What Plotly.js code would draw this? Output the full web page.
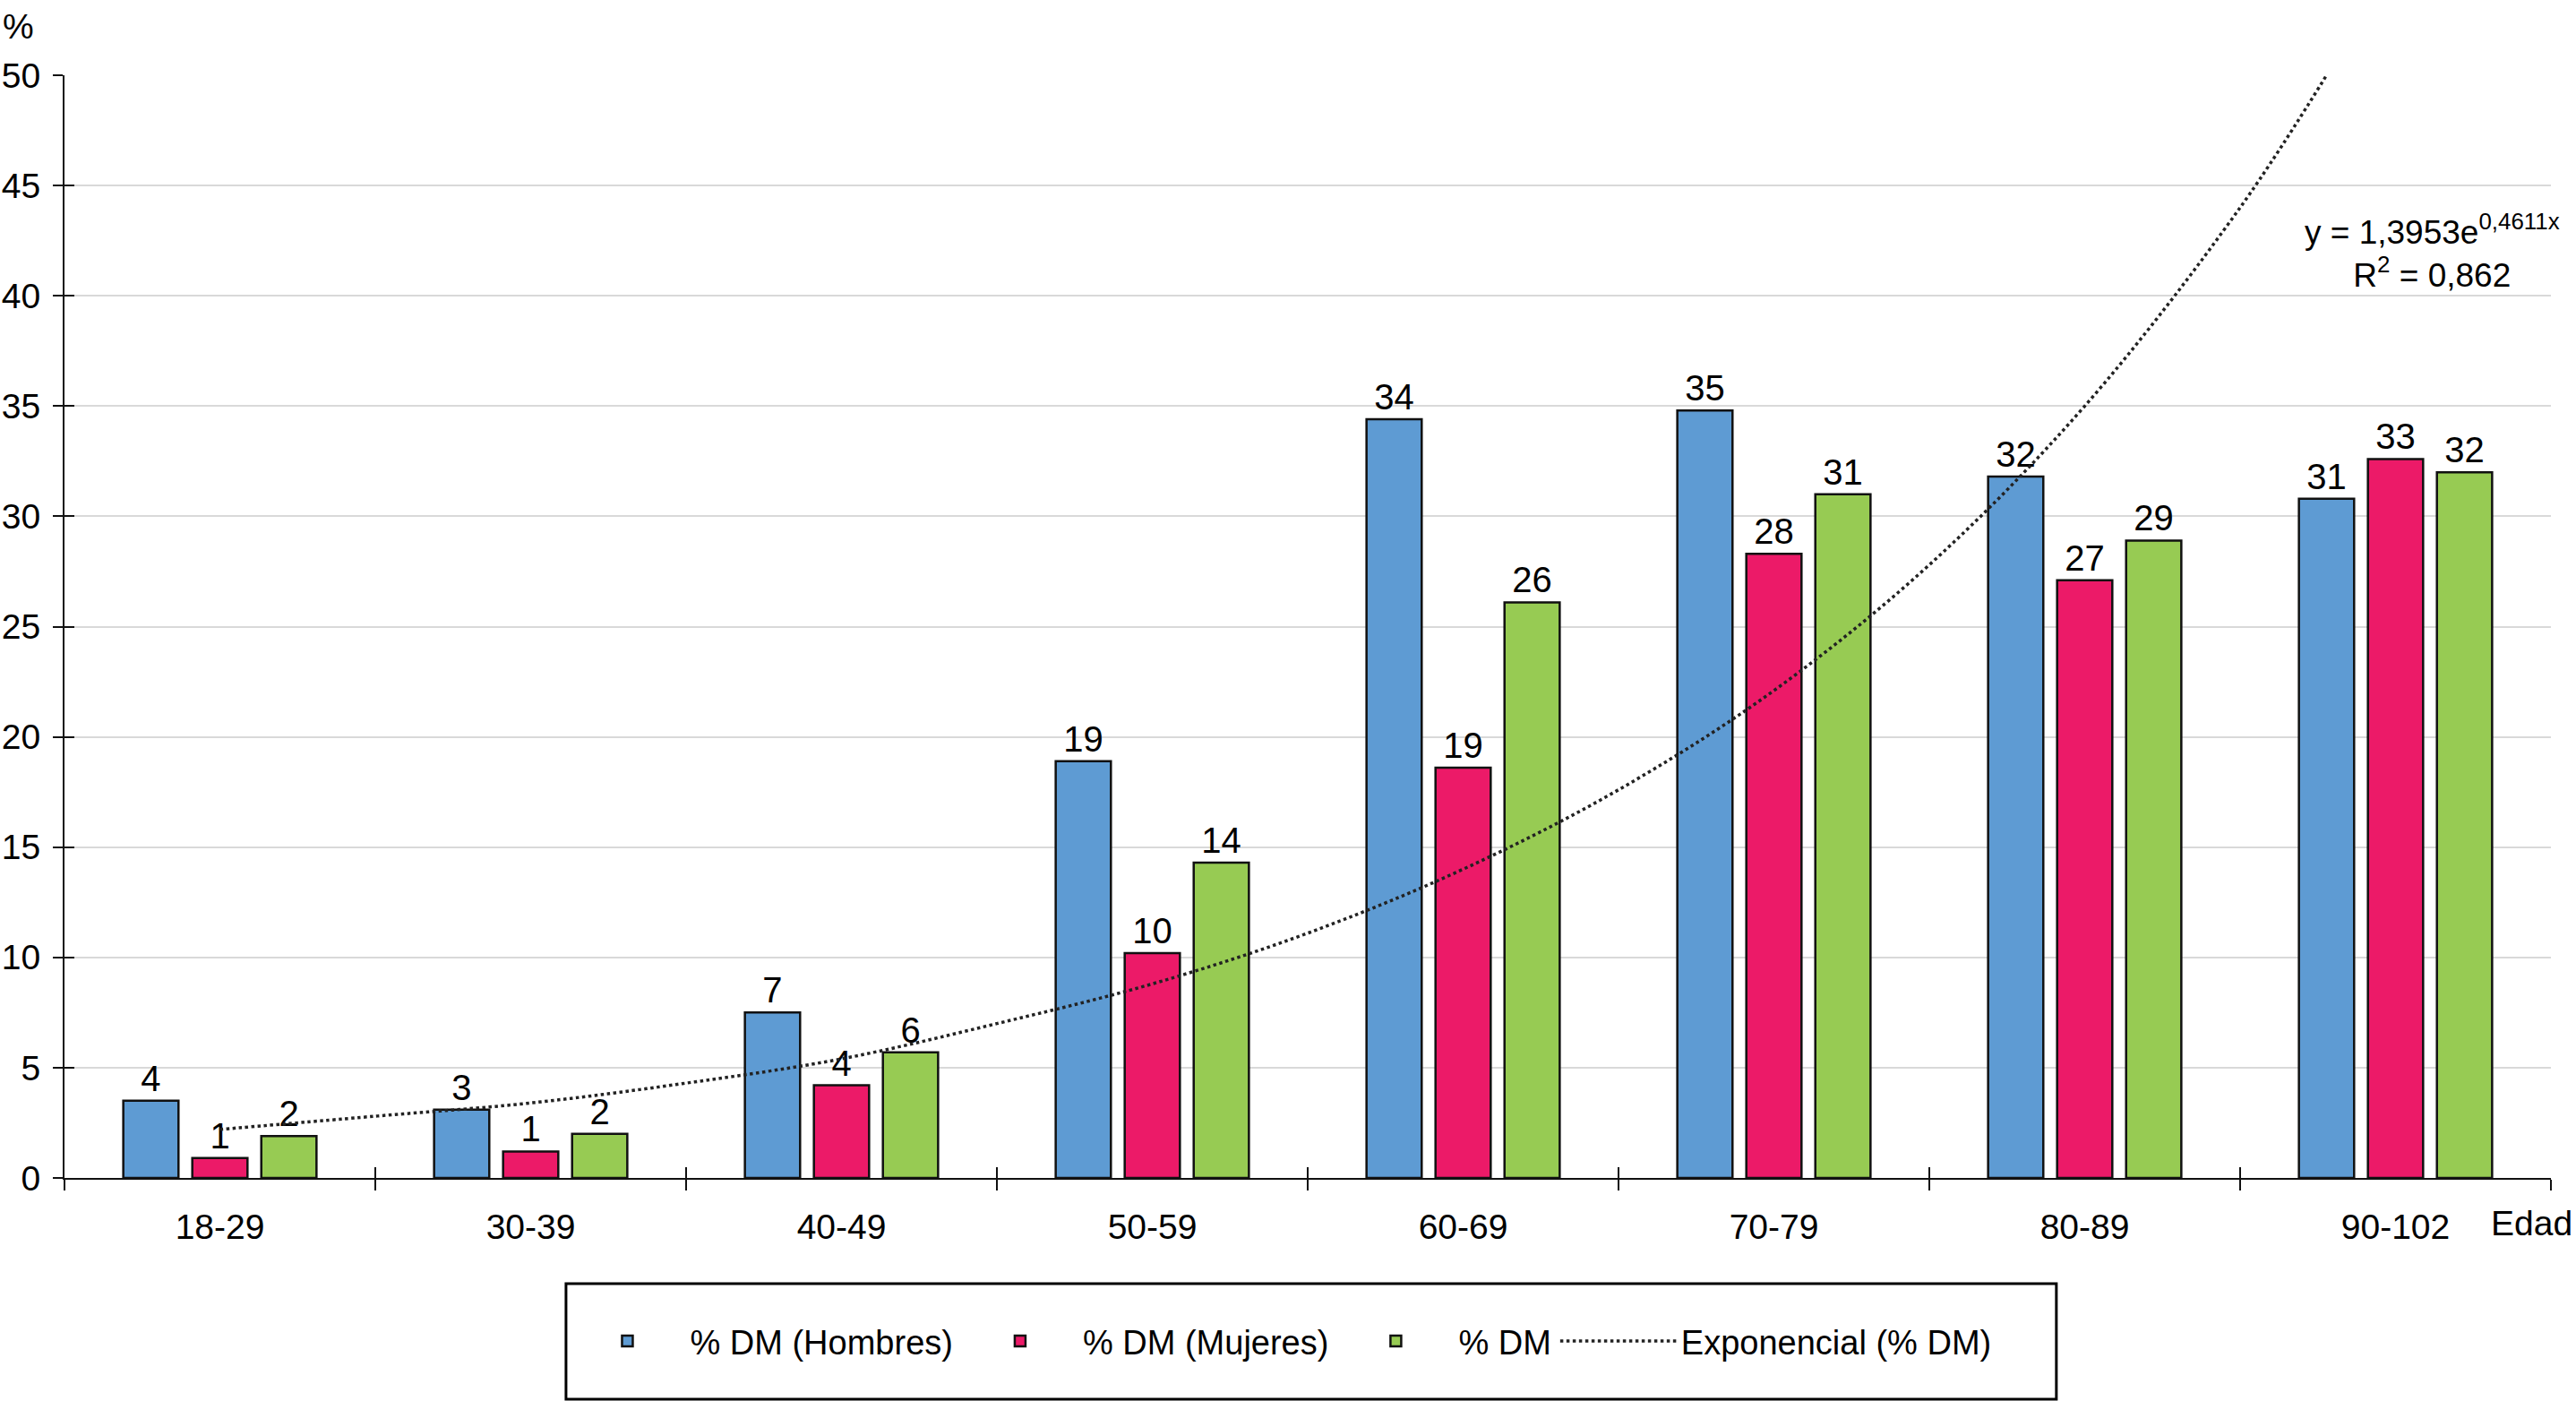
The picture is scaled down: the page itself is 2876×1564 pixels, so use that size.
<!DOCTYPE html>
<html>
<head>
<meta charset="utf-8">
<script src="https://cdn.plot.ly/plotly-3.0.1.min.js"></script>
<style>
  html, body { margin: 0; padding: 0; background: #ffffff; }
  #chart { width: 2876px; height: 1564px; }
</style>
</head>
<body>
<div id="chart"></div>
<script>
// ---- Data ----
const categories = ['18-29', '30-39', '40-49', '50-59', '60-69', '70-79', '80-89', '90-102'];
const dmHombres = [3.5, 3.1, 7.5, 18.9, 34.4, 34.8, 31.8, 30.8];
const dmMujeres = [0.9, 1.2, 4.2, 10.2, 18.6, 28.3, 27.1, 32.6];
const dmTotal   = [1.9, 2.0, 5.7, 14.3, 26.1, 31.0, 28.9, 32.0];
const labelsHombres = ['4', '3', '7', '19', '34', '35', '32', '31'];
const labelsMujeres = ['1', '1', '4', '10', '19', '28', '27', '33'];
const labelsTotal   = ['2', '2', '6', '14', '26', '31', '29', '32'];
// exponential trend line (% DM)
const trendX = [1, 1.5, 2, 2.5, 3, 3.5, 4, 4.5, 5, 5.5, 6, 6.5, 7, 7.5, 7.8];
const trendY = [2.2, 2.8, 3.4, 4.3, 5.4, 7.0, 8.8, 11.1, 14.0, 17.6, 22.1, 27.8, 35.0, 44.0, 50.5];
const yTicks = [0, 5, 10, 15, 20, 25, 30, 35, 40, 45, 50];
const equationText = 'y = 1,3953e<sup>0,4611x</sup><br>R<sup>2</sup> = 0,862';
const legendNames = ['% DM (Hombres)', '% DM (Mujeres)', '% DM', 'Exponencial (% DM)'];

const xPos = categories.map((c, i) => i + 1);
const boundaries = [0.5].concat(categories.map((c, i) => i + 1.5));

const FONT = 'Liberation Sans, Arial, Helvetica, sans-serif';
const colors = ['#5E9BD3', '#EC1A68', '#97CB53'];

function barTrace(name, values, labels, color) {
  return {
    type: 'bar',
    name: name,
    x: xPos,
    y: values,
    text: labels,
    textposition: 'outside',
    textfont: { family: FONT, size: 40, color: '#000' },
    constraintext: 'none',
    cliponaxis: false,
    marker: { color: color, line: { color: '#111', width: 2.5 } },
    hoverinfo: 'skip'
  };
}

const traces = [
  barTrace(legendNames[0], dmHombres, labelsHombres, colors[0]),
  barTrace(legendNames[1], dmMujeres, labelsMujeres, colors[1]),
  barTrace(legendNames[2], dmTotal, labelsTotal, colors[2]),
  {
    type: 'scatter',
    mode: 'lines',
    name: legendNames[3],
    x: trendX,
    y: trendY,
    xaxis: 'x2',
    yaxis: 'y2',
    line: { color: '#222', width: 3.5, dash: 'dot', shape: 'spline', smoothing: 1 },
    hoverinfo: 'skip'
  }
];

const layout = {
  width: 2876,
  height: 1564,
  margin: { l: 72, r: 28, t: 84, b: 249 },
  paper_bgcolor: '#ffffff',
  plot_bgcolor: '#ffffff',
  font: { family: FONT, size: 39, color: '#000' },
  barmode: 'group',
  bargap: 0.334,
  bargroupgap: 0.2,
  showlegend: true,
  legend: {
    orientation: 'h',
    x: 0.489, xanchor: 'center',
    y: -0.148, yanchor: 'middle',
    font: { family: FONT, size: 38, color: '#000' },
    bgcolor: 'rgba(0,0,0,0)',
    borderwidth: 0,
    itemwidth: 130,
    traceorder: 'normal'
  },
  xaxis: {
    range: [0.5, 8.5],
    tickmode: 'array',
    tickvals: xPos,
    ticktext: categories,
    ticks: '',
    ticklabelstandoff: 19,
    tickfont: { family: FONT, size: 39, color: '#000' },
    showgrid: false,
    zeroline: false,
    showline: true,
    linecolor: '#111',
    linewidth: 2,
    fixedrange: true,
    minor: {
      tickmode: 'array',
      tickvals: boundaries,
      ticks: 'outside',
      ticklen: 12,
      tickwidth: 2,
      tickcolor: '#111',
      showgrid: false
    }
  },
  xaxis2: {
    overlaying: 'x',
    anchor: 'y',
    side: 'bottom',
    range: [0.5, 8.5],
    tickmode: 'array',
    tickvals: boundaries.slice(1),
    ticks: 'inside',
    ticklen: 12,
    tickwidth: 2,
    tickcolor: '#111',
    showticklabels: false,
    showgrid: false,
    zeroline: false,
    showline: false,
    fixedrange: true
  },
  yaxis: {
    range: [0, 50],
    tickmode: 'array',
    tickvals: yTicks,
    ticks: 'outside',
    ticklen: 11,
    tickwidth: 2,
    tickcolor: '#111',
    ticklabelstandoff: 6,
    tickfont: { family: FONT, size: 39, color: '#000' },
    showgrid: true,
    gridcolor: '#d9d9d9',
    gridwidth: 2,
    zeroline: false,
    showline: true,
    linecolor: '#111',
    linewidth: 2,
    fixedrange: true
  },
  yaxis2: {
    overlaying: 'y',
    anchor: 'x',
    side: 'left',
    range: [0, 50],
    tickmode: 'array',
    tickvals: yTicks,
    ticks: 'inside',
    ticklen: 11,
    tickwidth: 2,
    tickcolor: '#111',
    showticklabels: false,
    showgrid: false,
    zeroline: false,
    showline: false,
    fixedrange: true
  },
  shapes: [
    {
      type: 'rect', xref: 'paper', yref: 'paper',
      x0: 0.2017, x1: 0.8011, y0: -0.0959, y1: -0.2006,
      line: { color: '#000', width: 3 },
      fillcolor: 'rgba(0,0,0,0)'
    }
  ],
  annotations: [
    {
      text: '%', xref: 'paper', yref: 'paper',
      x: -0.0184, y: 1.044, xanchor: 'center', yanchor: 'middle',
      showarrow: false, font: { family: FONT, size: 39, color: '#000' }
    },
    {
      text: 'Edad', xref: 'paper', yref: 'paper',
      x: 0.9921, y: -0.0414, xanchor: 'center', yanchor: 'middle',
      showarrow: false, font: { family: FONT, size: 39, color: '#000' }
    },
    {
      text: equationText, xref: 'paper', yref: 'paper',
      x: 0.9524, y: 0.840, xanchor: 'center', yanchor: 'middle', align: 'center',
      showarrow: false, font: { family: FONT, size: 37, color: '#000' }
    }
  ]
};

Plotly.newPlot('chart', traces, layout, { displayModeBar: false, staticPlot: true });
</script>
</body>
</html>
